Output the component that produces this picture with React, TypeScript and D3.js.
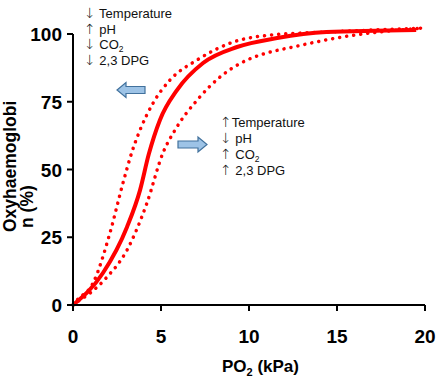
import React from "react";
import * as d3 from "d3";

const xTicks = [0, 5, 10, 15, 20];
const yTicks = [0, 25, 50, 75, 100];

const normalPO2 = [0, 1.7, 3.07, 3.81, 4.3, 4.94, 5.91, 7.39, 9.32, 11.6, 14.4, 19.5];
const normalSat = [0, 11.8, 28.8, 42.4, 55.5, 68.3, 79.3, 89.3, 95.2, 98.5, 100.7, 101.5];

const leftPO2 = [0, 0.23, 1.14, 2.1, 2.84, 3.35, 3.81, 4.55, 5.51, 7.05, 9.09, 11.2, 14.4, 19.9];
const leftSat = [0, 1.8, 8.1, 26.6, 45.0, 56.5, 64.6, 74.5, 83.0, 90.4, 97.0, 99.6, 100.7, 102.2];

const rightPO2 = [0, 0.23, 0.97, 1.93, 3.07, 4.2, 5.11, 5.8, 7.05, 8.35, 9.89, 10.8, 12.5, 15.3, 19.9];
const rightSat = [0, 1.1, 4.4, 10.3, 20.3, 37.6, 56.1, 64.6, 75.6, 84.1, 90.4, 92.6, 95.2, 98.9, 102.2];

// arrow | text | subscript
const leftLabels = ["↓| Temperature|", "↑| pH|", "↓| CO|2", "↓| 2,3 DPG|"];
const rightLabels = ["↑|Temperature|", "↓| pH|", "↑| CO|2", "↑| 2,3 DPG|"];

const W = 440, H = 378;
const x = d3.scaleLinear().domain([0, 20]).range([73, 425]);
const y = d3.scaleLinear().domain([0, 100]).range([305, 34]);

function pts(xs: number[], ys: number[]): [number, number][] {
  return xs.map((v, i) => [v, ys[i]]);
}

const line = d3
  .line<[number, number]>()
  .x((d) => x(d[0]))
  .y((d) => y(d[1]))
  .curve(d3.curveMonotoneX);

function Label({ text, px, py }: { text: string; px: number; py: number }) {
  const [arrow, body, sub] = text.split("|");
  return (
    <text x={px} y={py} fontFamily="Liberation Sans, Arial, sans-serif" fontSize={13} fill="#111">
      <tspan fontFamily="DejaVu Sans" fontWeight="200" fontSize={14}>{arrow}</tspan>
      <tspan>{body}</tspan>
      {sub ? (
        <tspan fontSize={8.5} dy={2.5}>
          {sub}
        </tspan>
      ) : null}
    </text>
  );
}

function Arrow({ x0, x1, yc, dir }: { x0: number; x1: number; yc: number; dir: number }) {
  const bh = 3.5, hh = 7.5, hl = 9;
  let p: [number, number][];
  if (dir > 0) {
    const hx = x1 - hl;
    p = [[x0, yc - bh], [hx, yc - bh], [hx, yc - hh], [x1, yc], [hx, yc + hh], [hx, yc + bh], [x0, yc + bh]];
  } else {
    const hx = x0 + hl;
    p = [[x1, yc - bh], [hx, yc - bh], [hx, yc - hh], [x0, yc], [hx, yc + hh], [hx, yc + bh], [x1, yc + bh]];
  }
  return <polygon points={p.map((q) => q.join(",")).join(" ")} fill="#9dc3e6" stroke="#41719c" strokeWidth={1.2} />;
}

export default function App() {
  const numFont = "Liberation Sans Narrow, Arial Narrow, Liberation Sans, Arial, sans-serif";
  return (
    <svg width={W} height={H} style={{ position: "absolute", left: 0, top: 0, background: "#fff" }}>
      <rect width={W} height={H} fill="#fff" />
      <path d={line(pts(leftPO2, leftSat)) || ""} fill="none" stroke="#ff0000" strokeWidth={3.5} strokeLinecap="round" strokeDasharray="0.1 7" />
      <path d={line(pts(rightPO2, rightSat)) || ""} fill="none" stroke="#ff0000" strokeWidth={3.5} strokeLinecap="round" strokeDasharray="0.1 7" />
      <path d={line(pts(normalPO2, normalSat)) || ""} fill="none" stroke="#ff0000" strokeWidth={4} />
      <line x1={73} x2={73} y1={y(100)} y2={y(0)} stroke="#000" strokeWidth={2} />
      <line x1={x(0)} x2={x(20)} y1={305} y2={305} stroke="#000" strokeWidth={2} />
      {yTicks.map((t) => (
        <g key={"y" + t}>
          <line x1={67} x2={73} y1={y(t)} y2={y(t)} stroke="#000" strokeWidth={2} />
          <text x={62} y={y(t) + 7} textAnchor="end" fontFamily={numFont} fontWeight="bold" fontSize={19} fill="#000">
            {t}
          </text>
        </g>
      ))}
      {xTicks.map((t) => (
        <g key={"x" + t}>
          <line x1={x(t)} x2={x(t)} y1={305} y2={311} stroke="#000" strokeWidth={2} />
          <text x={x(t)} y={343} textAnchor="middle" fontFamily={numFont} fontWeight="bold" fontSize={19} fill="#000">
            {t}
          </text>
        </g>
      ))}
      <text x={222} y={372} fontFamily="Liberation Sans, Arial, sans-serif" fontWeight="bold" fontSize={17} fill="#000">
        PO
        <tspan fontSize={11} dy={4}>2</tspan>
        <tspan dy={-4}> (kPa)</tspan>
      </text>
      <g transform="translate(16,232) rotate(-90)">
        <text x={0} y={0} fontFamily="Liberation Sans, Arial, sans-serif" fontWeight="bold" fontSize={17.5} fill="#000">
          Oxyhaemoglobi
        </text>
        <text x={4} y={17} fontFamily="Liberation Sans, Arial, sans-serif" fontWeight="bold" fontSize={17.5} fill="#000">
          n (%)
        </text>
      </g>
      {leftLabels.map((l, i) => (
        <Label key={"l" + i} text={l} px={84} py={18 + i * 15.6} />
      ))}
      {rightLabels.map((l, i) => (
        <Label key={"r" + i} text={l} px={220} py={127 + i * 16} />
      ))}
      <Arrow x0={117} x1={145} yc={90} dir={-1} />
      <Arrow x0={178} x1={207} yc={144.5} dir={1} />
    </svg>
  );
}
